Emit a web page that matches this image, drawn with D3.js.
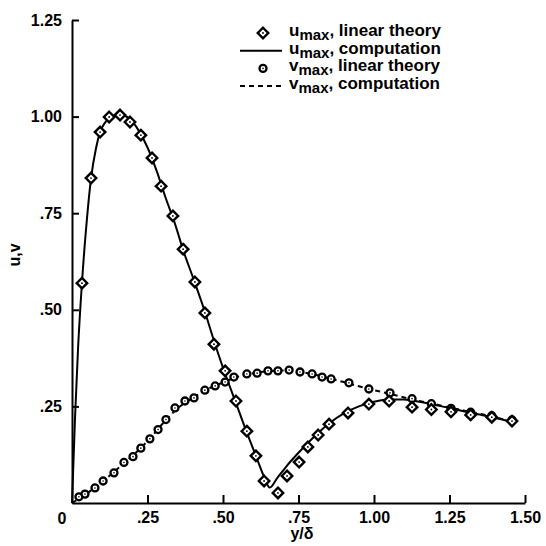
<!DOCTYPE html>
<html><head><meta charset="utf-8">
<script src="https://cdn.jsdelivr.net/npm/d3@7"></script>
<style>
body{margin:0;background:#fff}
text{font-family:"Liberation Sans",Arial,sans-serif;font-weight:bold;fill:#000}
</style></head>
<body>
<svg id="c" width="546" height="546"></svg>
<script>
// ---- data ----
const xTicks = [0.25, 0.5, 0.75, 1.0, 1.25, 1.5];
const xTickLabels = [".25", ".50", ".75", "1.00", "1.25", "1.50"];
const yTicks = [0.25, 0.5, 0.75, 1.0, 1.25];
const yTickLabels = [".25", ".50", ".75", "1.00", "1.25"];
const originLabel = "0";
const xTitle = "y/δ";
const yTitle = "u,v";

// u_max, linear theory (diamonds)
const uTheory = [[0.033,0.569],[0.063,0.841],[0.093,0.96],[0.123,0.999],[0.159,1.004],[0.192,0.986],[0.228,0.952],[0.265,0.893],[0.295,0.82],[0.334,0.743],[0.368,0.657],[0.407,0.572],[0.44,0.492],[0.47,0.411],[0.507,0.342],[0.543,0.264],[0.579,0.186],[0.609,0.122],[0.636,0.057],[0.682,0.026],[0.712,0.07],[0.752,0.106],[0.781,0.145],[0.815,0.176],[0.851,0.204],[0.914,0.233],[0.983,0.256],[1.05,0.264],[1.126,0.248],[1.19,0.242],[1.255,0.236],[1.32,0.228],[1.39,0.222],[1.457,0.212]];
// u_max, computation (solid)
const uComp = [[0,0],[0.01,0.22],[0.02,0.40],[0.033,0.57],[0.05,0.74],[0.063,0.84],[0.08,0.92],[0.093,0.96],[0.11,0.985],[0.13,1.0],[0.16,1.005],[0.19,0.995],[0.22,0.965],[0.25,0.92],[0.28,0.86],[0.31,0.79],[0.34,0.725],[0.37,0.65],[0.40,0.585],[0.44,0.495],[0.47,0.42],[0.50,0.35],[0.54,0.265],[0.58,0.18],[0.61,0.12],[0.635,0.07],[0.655,0.04],[0.68,0.065],[0.71,0.095],[0.75,0.13],[0.80,0.17],[0.85,0.205],[0.90,0.232],[0.95,0.25],[1.0,0.262],[1.05,0.268],[1.10,0.268],[1.15,0.262],[1.20,0.254],[1.25,0.246],[1.30,0.237],[1.35,0.229],[1.40,0.22],[1.45,0.212]];
// v_max, linear theory (circles)
const vTheory = [[0.023,0.016],[0.043,0.023],[0.076,0.039],[0.103,0.057],[0.139,0.078],[0.172,0.105],[0.202,0.12],[0.228,0.142],[0.258,0.166],[0.285,0.19],[0.311,0.216],[0.341,0.246],[0.374,0.264],[0.404,0.272],[0.44,0.292],[0.474,0.303],[0.507,0.313],[0.536,0.326],[0.579,0.334],[0.613,0.336],[0.649,0.342],[0.682,0.342],[0.719,0.344],[0.755,0.339],[0.795,0.334],[0.828,0.326],[0.858,0.321],[0.917,0.311],[0.983,0.295],[1.053,0.285],[1.126,0.27],[1.19,0.257],[1.255,0.245],[1.32,0.235],[1.39,0.226],[1.457,0.215]];
// v_max, computation (dashed)
const vComp = [[0,0],[0.05,0.025],[0.1,0.055],[0.15,0.088],[0.2,0.122],[0.25,0.16],[0.3,0.205],[0.35,0.245],[0.4,0.272],[0.45,0.295],[0.5,0.312],[0.55,0.327],[0.6,0.336],[0.65,0.341],[0.7,0.343],[0.75,0.34],[0.8,0.333],[0.85,0.323],[0.9,0.313],[0.95,0.302],[1.0,0.292],[1.05,0.283],[1.1,0.273],[1.15,0.264],[1.2,0.256],[1.25,0.247],[1.3,0.239],[1.35,0.231],[1.4,0.222],[1.45,0.213]];

const legendItems = [
  {type:"diamond", base:"u", sub:"max", rest:", linear theory"},
  {type:"solid", base:"u", sub:"max", rest:", computation"},
  {type:"circle", base:"v", sub:"max", rest:", linear theory"},
  {type:"dashed", base:"v", sub:"max", rest:", computation"}
];

// ---- drawing ----
const svg = d3.select("#c");
const x = d3.scaleLinear().domain([0,1.5]).range([72,525]);
const y = d3.scaleLinear().domain([0,1.25]).range([503,20]);

const line = d3.line().x(d=>x(d[0])).y(d=>y(d[1])).curve(d3.curveMonotoneX);

svg.append("path").datum(uComp).attr("d",line)
  .attr("fill","none").attr("stroke","#000").attr("stroke-width",2);
svg.append("path").datum(vComp).attr("d",line)
  .attr("fill","none").attr("stroke","#000").attr("stroke-width",2)
  .attr("stroke-dasharray","5,4");

const diamond = d3.symbol().type(d3.symbolDiamond2).size(70);
function drawDiamond(g, cx, cy){
  g.append("path").attr("d",diamond()).attr("transform",`translate(${cx},${cy})`)
    .attr("fill","#fff").attr("stroke","#000").attr("stroke-width",2.4);
  g.append("circle").attr("cx",cx).attr("cy",cy).attr("r",0.9).attr("fill","#000");
}
function drawCircle(g, cx, cy){
  g.append("circle").attr("cx",cx).attr("cy",cy).attr("r",3.5)
    .attr("fill","#fff").attr("stroke","#000").attr("stroke-width",2.3);
  g.append("circle").attr("cx",cx).attr("cy",cy).attr("r",0.8).attr("fill","#000");
}
const gm = svg.append("g");
vTheory.forEach(d=>drawCircle(gm, x(d[0]), y(d[1])));
uTheory.forEach(d=>drawDiamond(gm, x(d[0]), y(d[1])));

// axes
const xAxis = d3.axisBottom(x).tickValues(xTicks)
  .tickFormat((d,i)=>xTickLabels[i]).tickSize(-8).tickSizeOuter(0).tickPadding(9);
const gx = svg.append("g").attr("transform",`translate(0,${y(0)})`).call(xAxis);
const yAxis = d3.axisLeft(y).tickValues(yTicks)
  .tickFormat((d,i)=>yTickLabels[i]).tickSize(-7).tickSizeOuter(0).tickPadding(10);
const gy = svg.append("g").attr("transform",`translate(${x(0)},0)`).call(yAxis);
[gx,gy].forEach(g=>{
  g.select(".domain").attr("stroke","#000").attr("stroke-width",2);
  g.selectAll(".tick line").attr("stroke","#000").attr("stroke-width",2);
  g.selectAll("text").style("font-size","16px").style("font-weight","bold")
    .style("font-family","'Liberation Sans',Arial,sans-serif").attr("fill","#000");
});

svg.append("text").attr("x",x(0)-10).attr("y",524).attr("text-anchor","middle")
  .style("font-size","16px").text(originLabel);
svg.append("text").attr("x",302).attr("y",539).attr("text-anchor","middle")
  .style("font-size","16px").text(xTitle);
svg.append("text").attr("transform","translate(20,255) rotate(-90)").attr("text-anchor","middle")
  .style("font-size","16px").text(yTitle);

// legend
const lg = svg.append("g");
legendItems.forEach((it,i)=>{
  const cy = 33 + i*17.7;
  if(it.type==="diamond") drawDiamond(lg, 263, cy);
  else if(it.type==="circle") drawCircle(lg, 263, cy);
  else {
    lg.append("line").attr("x1",240).attr("x2",282).attr("y1",cy).attr("y2",cy)
      .attr("stroke","#000").attr("stroke-width",2)
      .attr("stroke-dasharray", it.type==="dashed" ? "5,4" : null);
  }
  const t = lg.append("text").attr("x",289).attr("y",cy+3).style("font-size","17px");
  t.append("tspan").text(it.base);
  t.append("tspan").attr("dy",4).style("font-size","15px").text(it.sub);
  t.append("tspan").attr("dy",-4).text(it.rest);
});
</script>
</body></html>
